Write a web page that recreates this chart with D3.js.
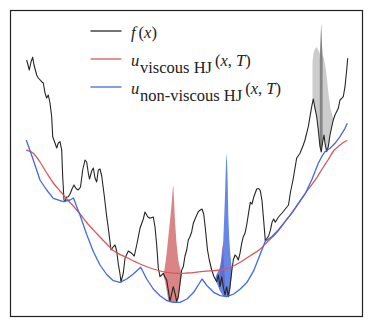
<!DOCTYPE html>
<html>
<head>
<meta charset="utf-8">
<script src="https://cdn.jsdelivr.net/npm/d3@7"></script>
<style>
  html, body { margin: 0; padding: 0; background: #fff; }
  svg { display: block; }
  .leg { font-family: "Liberation Serif", "DejaVu Serif", serif; font-size: 16.5px; fill: #222; }
</style>
</head>
<body>
<div class="chart"></div>
<script>
'use strict';

// f(x): the noisy objective
const fX = [0.07, 0.33, 0.50, 0.67, 0.80, 1.07, 1.23, 1.57, 1.73, 1.90, 2.07, 2.23, 2.40, 2.57, 2.67, 2.90, 3.07, 3.23, 3.40, 3.57,
  3.67, 3.80, 3.90, 4.07, 4.23, 4.40, 4.60, 4.80, 5.00, 5.23, 5.45, 5.67, 5.90, 6.07, 6.23, 6.35, 6.57, 6.73, 6.90, 7.07,
  7.23, 7.40, 7.57, 7.83, 8.07, 8.23, 8.50, 8.73, 8.90, 9.07, 9.23, 9.40, 9.50, 9.73, 9.90, 10.23, 10.57, 10.83, 11.07, 11.40,
  11.73, 11.90, 12.17, 12.40, 12.73, 12.90, 13.07, 13.23, 13.40, 13.57, 13.73, 13.90, 14.07, 14.23, 14.40, 14.57, 14.73, 14.90, 15.07, 15.23,
  15.40, 15.57, 15.73, 15.90, 16.07, 16.23, 16.40, 16.57, 16.73, 17.00, 17.23, 17.43, 17.60, 17.77, 17.93, 18.15, 18.33, 18.57, 18.80, 19.07,
  19.23, 19.40, 19.57, 19.73, 19.90, 20.07, 20.23, 20.40, 20.57, 20.73, 20.90, 21.07, 21.23, 21.40, 21.57, 21.73, 21.90, 22.07, 22.33, 22.43,
  22.60, 22.77, 23.07, 23.27, 23.43, 23.60, 23.77, 23.93, 24.27, 24.43, 24.60, 24.77, 24.93, 25.25, 25.60, 25.93, 26.25, 26.45, 26.70, 26.90,
  27.07, 27.40, 27.73, 27.90, 28.23, 28.40, 28.57, 28.73, 28.90, 29.07, 29.23, 29.40, 29.53, 29.67, 29.80, 29.90, 30.07, 30.23, 30.40, 30.57,
  30.73, 30.90, 31.23, 31.40, 31.57, 31.73, 31.90, 32.07, 32.17];
const fY = [25.70, 24.70, 25.50, 25.97, 25.20, 24.20, 23.90, 23.53, 23.40, 22.40, 21.90, 22.20, 21.40, 20.03, 18.03, 17.40, 16.90, 17.40, 17.53, 16.70,
  14.03, 11.70, 11.53, 12.00, 12.03, 12.30, 12.80, 13.20, 12.85, 12.70, 13.00, 14.70, 15.70, 15.50, 14.40, 13.80, 14.60, 14.90, 13.90, 13.50,
  14.70, 14.80, 14.10, 12.10, 10.03, 8.90, 6.70, 7.03, 7.20, 6.60, 5.30, 4.30, 3.50, 4.40, 5.87, 6.60, 6.37, 6.10, 7.20, 8.87,
  9.80, 10.50, 10.03, 9.87, 10.00, 9.00, 7.20, 4.90, 4.03, 4.20, 4.37, 4.00, 3.70, 2.70, 1.53, 2.37, 3.03, 2.37, 1.53, 2.03,
  3.37, 4.70, 5.03, 6.10, 6.70, 7.70, 8.03, 8.53, 9.37, 10.03, 10.53, 10.70, 10.80, 10.30, 8.90, 6.70, 5.70, 4.70, 4.03, 3.53,
  4.20, 3.03, 4.03, 3.03, 2.20, 3.03, 2.03, 3.03, 4.53, 5.70, 6.20, 6.03, 5.70, 6.37, 7.37, 8.03, 8.37, 9.20, 10.87, 11.47,
  11.30, 11.97, 12.80, 12.85, 12.63, 11.63, 9.63, 7.63, 8.13, 8.63, 9.47, 9.80, 9.47, 10.00, 10.40, 10.80, 11.20, 12.50, 13.70, 14.90,
  15.90, 16.37, 17.20, 17.70, 19.03, 20.03, 21.03, 21.80, 20.87, 20.03, 18.70, 17.03, 16.50, 17.53, 18.20, 17.37, 16.53, 17.03, 18.20, 19.00,
  19.70, 20.20, 20.87, 21.70, 21.87, 22.03, 23.03, 24.70, 25.87];

// u viscous HJ(x, T)
const viscX = [0.03, 0.73, 1.40, 2.07, 2.73, 3.40, 4.07, 4.73, 5.40, 6.07, 7.07, 8.07, 8.73, 10.07, 11.40, 12.73, 14.07, 15.40, 16.10,
  17.77, 19.43, 20.43, 21.43, 22.43, 23.43, 24.10, 25.10, 26.10, 27.10, 28.10, 29.10, 29.77, 30.23, 30.75, 31.40, 31.90, 32.13];
const viscY = [16.70, 16.37, 15.50, 14.40, 13.40, 12.60, 11.80, 11.10, 10.30, 9.45, 8.35, 7.30, 6.65, 5.95, 5.30, 4.80, 4.47, 4.37, 4.40,
  4.57, 4.70, 4.97, 5.47, 6.13, 6.80, 7.47, 8.47, 9.80, 11.13, 12.60, 13.97, 15.05, 15.75, 16.60, 17.20, 17.55, 17.65];

// u non-viscous HJ(x, T)
const nonViscX = [0.03, 0.73, 1.40, 2.07, 2.73, 3.73, 4.40, 4.75, 5.07, 5.40, 6.07, 6.73, 7.40, 8.07, 8.73, 9.40, 10.07, 10.73, 11.47,
  12.07, 12.73, 13.40, 14.07, 14.73, 15.40, 16.10, 16.77, 17.60, 18.10, 18.77, 19.43, 20.10, 20.77, 21.43, 22.10, 22.77, 23.43, 23.93,
  24.57, 25.23, 25.90, 26.57, 27.23, 27.90, 28.57, 29.23, 29.57, 29.90, 30.40, 30.90, 31.40, 31.90, 32.13];
const nonViscY = [17.70, 15.70, 13.70, 12.70, 11.87, 11.53, 11.70, 11.90, 11.03, 10.20, 8.25, 6.55, 5.20, 4.25, 3.63, 3.47, 3.80, 4.30, 4.97,
  3.80, 2.80, 2.13, 1.65, 1.47, 1.47, 1.80, 2.47, 3.80, 3.13, 2.47, 2.13, 2.03, 2.30, 2.80, 3.47, 4.63, 6.30, 7.57,
  8.03, 8.70, 9.53, 10.37, 11.37, 12.30, 13.70, 15.37, 16.03, 16.53, 16.87, 17.37, 18.03, 18.87, 19.37];

// shaded densities: upper and lower edges
const redFillX = [13.73, 13.90, 14.07, 14.23, 14.40, 14.57, 14.67, 14.73, 14.80, 14.90, 15.07, 15.23, 15.40, 15.57];
const redFillTop = [4.10, 5.10, 6.40, 8.00, 9.60, 11.40, 12.80, 13.20, 11.70, 9.50, 7.20, 5.70, 4.90, 4.30];
const redFillBottom = [4.10, 3.60, 2.60, 1.70, 1.50, 1.50, 1.50, 1.50, 1.50, 1.50, 1.50, 1.70, 3.00, 4.20];
const redSmallX = [19.30, 19.40, 19.55, 19.65, 19.73, 19.85, 19.95];
const redSmallTop = [3.50, 4.70, 6.10, 7.20, 6.50, 4.50, 2.70];
const redSmallBottom = [3.50, 3.40, 3.30, 3.20, 3.10, 3.00, 2.70];
const blueFillX = [18.90, 19.07, 19.23, 19.40, 19.57, 19.73, 19.83, 19.90, 20.00, 20.07, 20.15, 20.23, 20.32, 20.40, 20.50, 20.60];
const blueFillTop = [3.80, 4.30, 4.60, 5.00, 5.90, 7.70, 10.20, 12.20, 15.50, 16.40, 14.20, 10.20, 7.90, 6.70, 5.50, 4.70];
const blueFillBottom = [3.80, 3.40, 3.00, 2.60, 2.30, 2.10, 2.05, 2.03, 2.03, 2.03, 2.03, 2.05, 2.10, 2.50, 3.50, 4.50];
const grayFillX = [28.65, 28.75, 28.90, 29.07, 29.23, 29.37, 29.45, 29.52, 29.60, 29.67, 29.80, 30.00, 30.23, 30.43, 30.67, 30.75];
const grayFillTop = [25.50, 26.40, 26.80, 27.00, 26.70, 26.30, 27.70, 29.40, 27.20, 26.20, 25.85, 24.70, 22.50, 20.90, 20.10, 19.80];
const graySpikeX = [29.38, 29.45, 29.52, 29.60, 29.66];
const graySpikeTop = [25.70, 27.70, 29.40, 27.20, 25.70];

const legendLabels = [
  {main: 'f', sub: '', args: ['x']},
  {main: 'u', sub: 'viscous HJ', args: ['x', 'T']},
  {main: 'u', sub: 'non-viscous HJ', args: ['x', 'T']}
];
const legendColors = ['#262626', '#d65a5a', '#416ae3'];

const WIDTH = 374;
const HEIGHT = 328;

const svg = d3.select('.chart')
  .append('svg')
    .attr('width', WIDTH)
    .attr('height', HEIGHT);

const x = d3.scaleLinear().domain([-1.6, 33.7]).range([10, 363]);
const y = d3.scaleLinear().domain([0, 30.7]).range([317, 10]);

const fInterp = d3.scaleLinear().domain(fX).range(fY).clamp(true);

// band sitting on f(x) unless a lower edge is given
function bandPoints(xs, tops, bottoms) {
  let top = d3.scaleLinear().domain(xs).range(tops);
  if (bottoms) {
    return xs.map((v, i) => ({x: v, y0: bottoms[i], y1: Math.max(bottoms[i], tops[i])}));
  }
  let lo = xs[0], hi = xs[xs.length - 1];
  let pts = xs.concat(fX.filter((v) => v > lo && v < hi)).sort(d3.ascending);
  return pts.map((v) => {
    let b = fInterp(v);
    return {x: v, y0: b, y1: Math.max(b, top(v))};
  });
}

const area = d3.area()
  .x((d) => x(d.x))
  .y0((d) => y(d.y0))
  .y1((d) => y(d.y1));

let fills = svg.append('g');
fills.append('path').datum(bandPoints(grayFillX, grayFillTop))
  .attr('d', area).attr('fill', '#000').attr('fill-opacity', 0.2);
fills.append('path').datum(bandPoints(graySpikeX, graySpikeTop))
  .attr('d', area).attr('fill', '#000').attr('fill-opacity', 0.35);
fills.append('path').datum(bandPoints(redSmallX, redSmallTop, redSmallBottom))
  .attr('d', area).attr('fill', '#cd5c5c').attr('fill-opacity', 0.75);
fills.append('path').datum(bandPoints(redFillX, redFillTop, redFillBottom))
  .attr('d', area).attr('fill', '#cd5c5c').attr('fill-opacity', 0.75);
fills.append('path').datum(bandPoints(blueFillX, blueFillTop, blueFillBottom))
  .attr('d', area).attr('fill', '#4169e1').attr('fill-opacity', 0.8);

function series(xs, ys) {
  return xs.map((v, i) => [v, ys[i]]);
}

const line = d3.line().x((d) => x(d[0])).y((d) => y(d[1]));
const smooth = d3.line().x((d) => x(d[0])).y((d) => y(d[1])).curve(d3.curveMonotoneX);

svg.append('path').datum(series(fX, fY))
  .attr('d', line).attr('fill', 'none')
  .attr('stroke', legendColors[0]).attr('stroke-width', 1.1).attr('stroke-linejoin', 'round');
svg.append('path').datum(series(viscX, viscY))
  .attr('d', smooth).attr('fill', 'none')
  .attr('stroke', legendColors[1]).attr('stroke-width', 1.3);
svg.append('path').datum(series(nonViscX, nonViscY))
  .attr('d', line).attr('fill', 'none')
  .attr('stroke', legendColors[2]).attr('stroke-width', 1.3).attr('stroke-linejoin', 'round');

// frame
svg.append('rect')
  .attr('x', 10.5).attr('y', 10.5)
  .attr('width', 352).attr('height', 306)
  .attr('fill', 'none').attr('stroke', '#222').attr('stroke-width', 1.2);

// legend
let legend = svg.append('g');
legendLabels.forEach((lab, i) => {
  let ly = 31 + i * 28;
  legend.append('line')
    .attr('x1', 90.5).attr('x2', 121.5)
    .attr('y1', ly).attr('y2', ly)
    .attr('stroke', legendColors[i]).attr('stroke-width', 1.3);
  let t = legend.append('text').attr('class', 'leg').attr('x', 131).attr('y', ly + 6.5);
  t.append('tspan').style('font-style', 'italic').text(lab.main);
  let a;
  if (lab.sub) {
    t.append('tspan').attr('x', 140).attr('dy', 7).text(lab.sub);
    a = t.append('tspan').attr('dy', -7).attr('dx', 3);
  } else {
    a = t.append('tspan').attr('dx', 3);
  }
  a.append('tspan').text('(');
  lab.args.forEach((arg, j) => {
    if (j > 0) a.append('tspan').text(', ');
    a.append('tspan').style('font-style', 'italic').text(arg);
  });
  a.append('tspan').text(')');
});
</script>
</body>
</html>
